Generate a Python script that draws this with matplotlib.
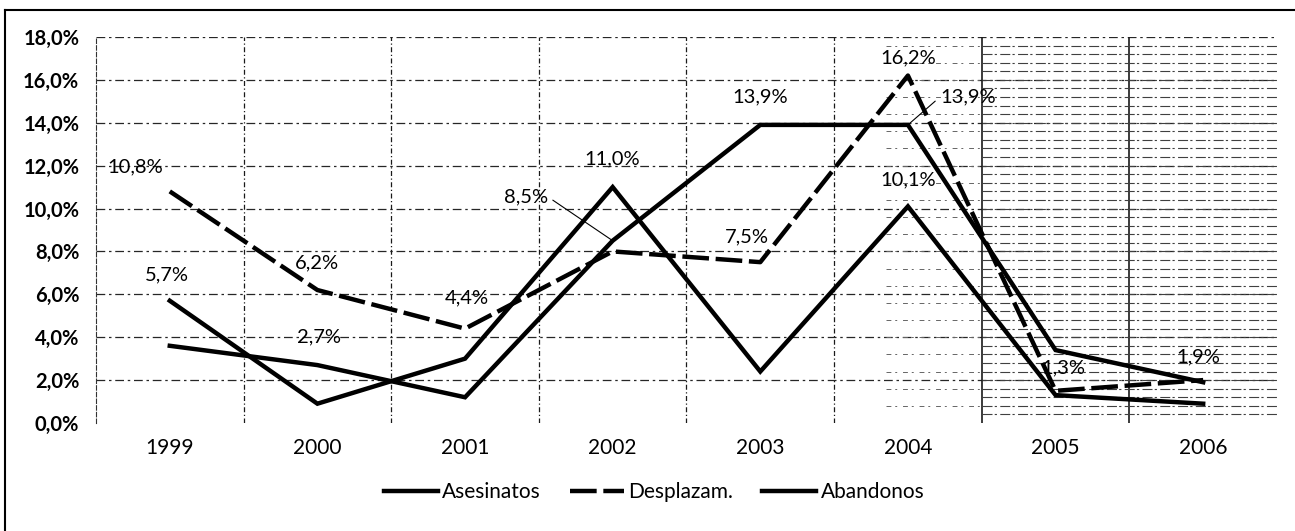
import matplotlib
matplotlib.use('Agg')
import matplotlib.pyplot as plt
from matplotlib.lines import Line2D
import numpy as np

# ---- data ----
years = ['1999', '2000', '2001', '2002', '2003', '2004', '2005', '2006']
asesinatos = [5.7, 0.9, 3.0, 11.0, 2.4, 10.1, 1.3, 0.9]
desplazam = [10.8, 6.2, 4.4, 8.0, 7.5, 16.2, 1.5, 2.0]
abandonos = [3.6, 2.7, 1.2, 8.5, 13.9, 13.9, 3.4, 1.9]
y_ticks = [0, 2, 4, 6, 8, 10, 12, 14, 16, 18]

plt.rcParams['font.family'] = ['Lato', 'DejaVu Sans']

fig = plt.figure(figsize=(12.95, 5.31), dpi=100)
ax = fig.add_axes([0.0741, 0.2034, 0.912, 0.727])

x = np.arange(len(years))
ax.set_xlim(-0.5, len(years) - 0.5)
ax.set_ylim(0, 18)

# grid (scanned look: dashed dark lines)
for t in y_ticks[1:]:
    ax.axhline(t, color='0.15', lw=0.9, ls=(0, (7, 3, 2, 3)), zorder=1)
for b in np.arange(0.5, len(years) - 0.5, 1.0):
    solid = b > 5
    ax.axvline(b, color='0.1', lw=1.2 if solid else 0.9,
               ls='-' if solid else (0, (4, 2, 1, 2)), zorder=1)
# dense scan hatching on the right part
for h in np.arange(0.4, 18, 0.4):
    ax.plot([5.5, 7.5], [h, h], color='0.25', lw=0.8,
            ls=(0, (9, 2, 2, 3)), zorder=1)
for h in np.arange(0.8, 18, 0.8):
    ax.plot([4.85, 5.5], [h, h], color='0.4', lw=0.7,
            ls=(0, (5, 4, 2, 6)), zorder=1)

l1, = ax.plot(x, asesinatos, color='black', lw=3.2, solid_joinstyle='miter', zorder=3)
l2, = ax.plot(x, desplazam, color='black', lw=3.2, ls=(0, (6, 1.5)), zorder=3)
l3, = ax.plot(x, abandonos, color='black', lw=3.2, solid_joinstyle='miter', zorder=3)

ax.set_yticks(y_ticks)
ax.set_yticklabels([f'{t:.1f}%'.replace('.', ',') for t in y_ticks],
                   fontsize=14.5, fontweight='bold')
ax.set_xticks(x)
ax.set_xticklabels(years, fontsize=15)
ax.tick_params(axis='both', length=0)
ax.tick_params(axis='x', pad=11)
ax.tick_params(axis='y', pad=12)
for s in ax.spines.values():
    s.set_visible(False)
ax.spines['left'].set_visible(True)
ax.spines['left'].set_linestyle((0, (4, 2)))
ax.spines['left'].set_color('0.2')

series = {'a': asesinatos, 'd': desplazam, 'b': abandonos}
labels = [
    ('d', 0, -35, 24, False),
    ('d', 1, 0, 27, False),
    ('d', 2, 2, 31, False),
    ('a', 0, -3, 26, False),
    ('b', 1, 2, 28, False),
    ('b', 3, -87, 44, True),
    ('a', 3, 0, 28, False),
    ('b', 4, 0, 28, False),
    ('d', 4, -13, 25, False),
    ('d', 5, 0, 18, False),
    ('a', 5, 0, 27, False),
    ('b', 5, 60, 28, True),
    ('a', 6, 8, 27, False),
    ('b', 7, -5, 25, False),
]
for key, i, dx, dy, leader in labels:
    v = series[key][i]
    txt = f'{v:.1f}%'.replace('.', ',')
    kw = {}
    if leader:
        kw['arrowprops'] = dict(arrowstyle='-', color='black', lw=0.8,
                                shrinkA=2, shrinkB=0,
                                relpos=(1.0, 0.5) if dx < 0 else (0.0, 0.5))
    ax.annotate(txt, (x[i], v), xytext=(dx, dy), textcoords='offset pixels',
                ha='center', va='center', fontsize=14.5, zorder=5, **kw)

fig.legend([l1, l2, l3], ['Asesinatos', 'Desplazam.', 'Abandonos'],
           loc='center', bbox_to_anchor=(0.505, 0.073), ncol=3, frameon=False,
           fontsize=15, handlelength=2.6, columnspacing=1.4, handletextpad=0.2)

# outer chart border (left and top)
fig.add_artist(Line2D([0.004, 0.004], [0.0, 0.981], color='black', lw=1.5,
                      transform=fig.transFigure))
fig.add_artist(Line2D([0.004, 1.0], [0.981, 0.981], color='black', lw=1.5,
                      transform=fig.transFigure))

fig.savefig('out.png', dpi=100, facecolor='white')
